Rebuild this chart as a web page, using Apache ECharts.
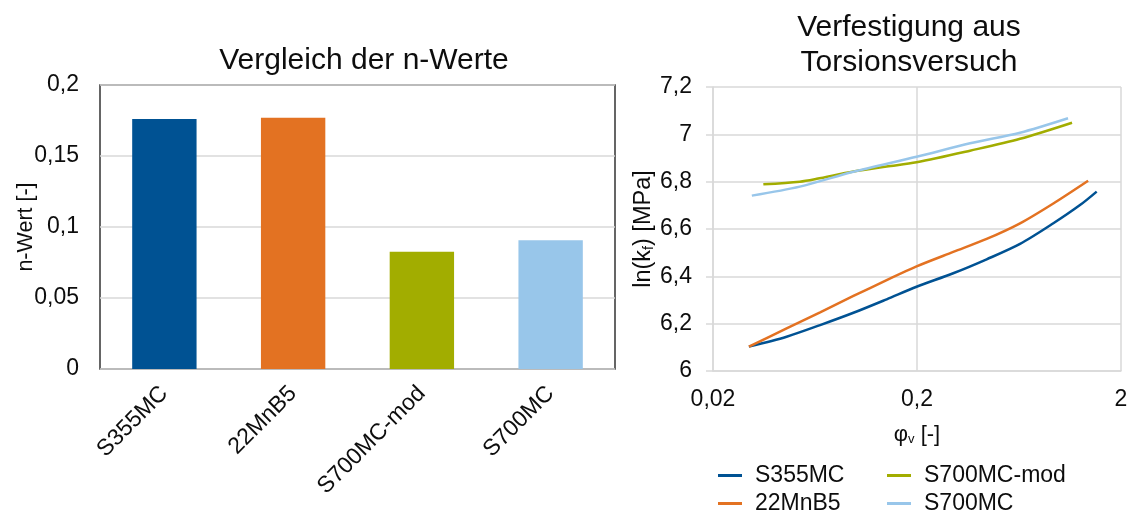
<!DOCTYPE html>
<html><head><meta charset="utf-8">
<script src="https://cdn.jsdelivr.net/npm/echarts@6/dist/echarts.min.js"></script>
<style>html,body{margin:0;padding:0;background:#fff}#c{width:1132px;height:514px}</style>
</head><body><div id="c"></div>
<script>
// ---- Data: left bar chart ----
const materials = ['S355MC', '22MnB5', 'S700MC-mod', 'S700MC'];
const nValues = [0.176, 0.177, 0.0826, 0.0906];
const nTicks = [0, 0.05, 0.1, 0.15, 0.2];

// ---- Data: right curves (phi_v, ln(kf)) ----
const phiS355 = [0.030, 0.0459, 0.067, 0.0976, 0.142, 0.199, 0.301, 0.439, 0.640, 0.932, 1.259, 1.52];
const lnS355  = [6.103, 6.145, 6.194, 6.246, 6.303, 6.356, 6.413, 6.472, 6.537, 6.624, 6.701, 6.758];
const phi22   = [0.030, 0.0459, 0.067, 0.0976, 0.142, 0.199, 0.301, 0.439, 0.640, 0.932, 1.38];
const ln22    = [6.103, 6.180, 6.248, 6.317, 6.384, 6.442, 6.503, 6.558, 6.624, 6.708, 6.804];
const phiMod  = [0.0353, 0.0533, 0.0645, 0.0976, 0.142, 0.199, 0.364, 0.640, 1.151];
const lnMod   = [6.789, 6.800, 6.812, 6.843, 6.864, 6.882, 6.931, 6.981, 7.049];
const phi700  = [0.031, 0.0533, 0.0976, 0.199, 0.364, 0.640, 1.10];
const ln700   = [6.741, 6.779, 6.842, 6.905, 6.962, 7.007, 7.068];
const phiTicks = [0.02, 0.2, 2];

const colors = {S355MC:'#005293', '22MnB5':'#E37222', 'S700MC-mod':'#A2AD00', S700MC:'#98C6EA'};
const FONT = 'Liberation Sans, Arial, sans-serif';
const TXT = '#0d0d0d';
const GRID = '#d9d9d9';
const comma = v => String(+v.toFixed(4)).replace('.', ',');
const zip = (a, b) => a.map((x, i) => [x, b[i]]);

const legendBase = {orient: 'vertical', top: 464, height: 70, icon: 'rect', padding: 0,
  itemWidth: 24, itemHeight: 3, itemGap: 5,
  textStyle: {fontFamily: FONT, fontSize: 23, lineHeight: 23, color: TXT, padding: [0, 0, 0, 8]}};

const chart = echarts.init(document.getElementById('c'), null, {renderer:'canvas'});
chart.setOption({
  animation: false,
  backgroundColor: '#fff',
  textStyle: {fontFamily: FONT, color: TXT},
  title: [
    {text: 'Vergleich der n-Werte', left: 359, top: 41, textAlign: 'center',
     textStyle: {fontFamily: FONT, fontSize: 30, fontWeight: 'normal', color: TXT}},
    {text: 'Verfestigung aus\nTorsionsversuch', left: 904, top: 5, textAlign: 'center',
     textStyle: {fontFamily: FONT, fontSize: 30, fontWeight: 'normal', color: TXT, lineHeight: 35}}
  ],
  legend: [
    Object.assign({}, legendBase, {data: ['S355MC', '22MnB5'], left: 718}),
    Object.assign({}, legendBase, {data: ['S700MC-mod', 'S700MC'], left: 887})
  ],
  grid: [
    {left: 100, top: 85, width: 515, height: 284, show: true, borderColor: '#333', borderWidth: 1.5, containLabel: false},
    {left: 713, top: 87, width: 408, height: 284, show: false, containLabel: false}
  ],
  xAxis: [
    {gridIndex: 0, type: 'category', data: materials,
     axisLine: {show: false}, axisTick: {show: false}, splitLine: {show: false},
     axisLabel: {rotate: 45, fontSize: 23, color: TXT, fontFamily: FONT, margin: 21, padding: [0, 0, 0, 0]}},
    {gridIndex: 1, type: 'log', logBase: 10, min: 0.02, max: 2,
     axisLine: {show: true, lineStyle: {color: GRID, width: 1.5}},
     axisTick: {show: false, customValues: phiTicks},
     axisLabel: {customValues: phiTicks, fontSize: 23, color: TXT, fontFamily: FONT, margin: 17, formatter: v => comma(v)},
     splitLine: {show: true, lineStyle: {color: GRID, width: 1.5}},
     name: 'φ{s|v} [-]', nameLocation: 'middle', nameGap: 52, nameMoveOverlap: false,
     nameTextStyle: {fontFamily: FONT, fontSize: 22, color: TXT,
       rich: {s: {fontSize: 13, fontFamily: FONT, color: TXT, verticalAlign: 'bottom', padding: [10, 0, 0, 0]}}}}
  ],
  yAxis: [
    {gridIndex: 0, type: 'value', min: 0, max: 0.2, interval: 0.05,
     axisLine: {show: false}, axisTick: {show: false},
     splitLine: {show: true, lineStyle: {color: GRID, width: 1.5}},
     axisLabel: {fontSize: 23, color: TXT, fontFamily: FONT, margin: 21, formatter: v => comma(v)},
     name: 'n-Wert [-]', nameLocation: 'middle', nameGap: 63, nameRotate: 90, nameMoveOverlap: false,
     nameTextStyle: {fontFamily: FONT, fontSize: 21.5, color: TXT}},
    {gridIndex: 1, type: 'value', min: 6, max: 7.2, interval: 0.2,
     axisLine: {show: true, lineStyle: {color: GRID, width: 1.5}},
     axisTick: {show: true, length: 7, lineStyle: {color: GRID, width: 1.5}},
     splitLine: {show: true, lineStyle: {color: GRID, width: 1.5}},
     axisLabel: {fontSize: 23, color: TXT, fontFamily: FONT, margin: 21, formatter: v => comma(v)},
     name: 'ln(k{s|f}) [MPa]', nameLocation: 'middle', nameGap: 57, nameRotate: 90,
     nameTextStyle: {fontFamily: FONT, fontSize: 23.5, color: TXT,
       rich: {s: {fontSize: 14, fontFamily: FONT, color: TXT, verticalAlign: 'bottom', padding: [10, 0, 0, 0]}}}}
  ],
  series: [
    {type: 'bar', xAxisIndex: 0, yAxisIndex: 0, barWidth: '50%',
     data: nValues.map((v, i) => ({value: v, itemStyle: {color: colors[materials[i]]}}))},
    {name: 'S355MC', type: 'line', xAxisIndex: 1, yAxisIndex: 1, data: zip(phiS355, lnS355),
     showSymbol: false, smooth: 0.3, lineStyle: {width: 2.5, color: colors.S355MC}, itemStyle: {color: colors.S355MC}},
    {name: '22MnB5', type: 'line', xAxisIndex: 1, yAxisIndex: 1, data: zip(phi22, ln22),
     showSymbol: false, smooth: 0.3, lineStyle: {width: 2.5, color: colors['22MnB5']}, itemStyle: {color: colors['22MnB5']}},
    {name: 'S700MC-mod', type: 'line', xAxisIndex: 1, yAxisIndex: 1, data: zip(phiMod, lnMod),
     showSymbol: false, smooth: 0.3, lineStyle: {width: 2.5, color: colors['S700MC-mod']}, itemStyle: {color: colors['S700MC-mod']}},
    {name: 'S700MC', type: 'line', xAxisIndex: 1, yAxisIndex: 1, data: zip(phi700, ln700),
     showSymbol: false, smooth: 0.3, lineStyle: {width: 2.5, color: colors.S700MC}, itemStyle: {color: colors.S700MC}}
  ]
});
</script></body></html>
